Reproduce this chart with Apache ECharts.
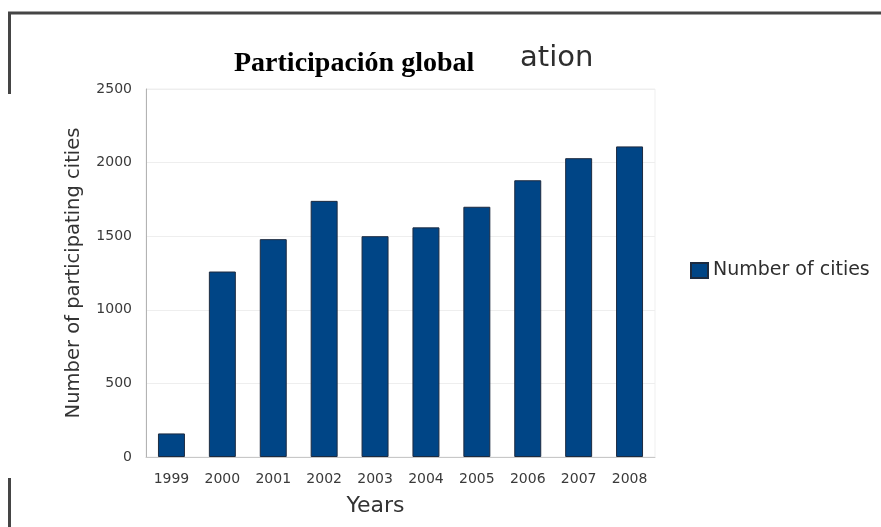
<!DOCTYPE html>
<html>
<head>
<meta charset="utf-8">
<script src="https://cdn.jsdelivr.net/npm/echarts@6/dist/echarts.min.js"></script>
<style>html,body{margin:0;padding:0;background:#fff;}#c{width:881px;height:527px;}</style>
</head>
<body>
<div id="c"></div>
<script>
const categories = ['1999','2000','2001','2002','2003','2004','2005','2006','2007','2008'];
const cities = [160, 1260, 1480, 1740, 1500, 1560, 1700, 1880, 2030, 2110];
const seriesName = 'Number of cities';
const titleText = 'Participación global';
const hiddenTitleTail = 'ation';
const yAxisName = 'Number of participating cities';
const xAxisName = 'Years';

const chart = echarts.init(document.getElementById('c'), null, {renderer: 'canvas'});
const sans = 'DejaVu Sans';
chart.setOption({
  backgroundColor: '#fff',
  animation: false,
  title: [
    {
      text: hiddenTitleTail,
      left: 515, top: 39,
      textStyle: {fontFamily: sans, fontSize: 29, fontWeight: 'normal', color: '#2e2e2e'}
    },
    {
      text: titleText,
      left: 234, top: 50,
      padding: 0,
      textStyle: {fontFamily: 'Liberation Serif', fontSize: 28, fontWeight: 'bold', color: '#000'}
    }
  ],
  legend: {
    left: 685, top: 256,
    orient: 'vertical',
    itemWidth: 17, itemHeight: 15, itemGap: 10,
    icon: 'rect',
    textStyle: {fontFamily: sans, fontSize: 19, color: '#2e2e2e'},
    data: [seriesName]
  },
  grid: {
    left: 146, right: 226, top: 89, bottom: 70,
    show: true, borderColor: '#efefef', borderWidth: 1
  },
  xAxis: {
    type: 'category',
    data: categories,
    name: xAxisName,
    nameLocation: 'middle',
    nameGap: 38,
    nameTextStyle: {fontFamily: sans, fontSize: 22, color: '#333', padding: [0, 50, 0, 0]},
    axisLine: {lineStyle: {color: '#c8c8c8', width: 1}},
    axisTick: {show: false},
    axisLabel: {fontFamily: sans, fontSize: 14, color: '#3a3a3a', margin: 15}
  },
  yAxis: {
    type: 'value',
    min: 0, max: 2500, interval: 500,
    name: yAxisName,
    nameLocation: 'middle',
    nameGap: 62,
    nameTextStyle: {fontFamily: sans, fontSize: 19.5, color: '#333'},
    axisLine: {show: true, lineStyle: {color: '#b3b3b3', width: 1}},
    axisTick: {show: false},
    axisLabel: {fontFamily: sans, fontSize: 14, color: '#3a3a3a', margin: 14, formatter: v => String(v)},
    splitLine: {lineStyle: {color: '#eeeeee', width: 1}}
  },
  series: [{
    name: seriesName,
    type: 'bar',
    data: cities,
    barWidth: '53%',
    itemStyle: {color: '#004586', borderColor: '#1d2b40', borderWidth: 1}
  }],
  graphic: [
    {type: 'line', shape: {x1: 8, y1: 13, x2: 881, y2: 13}, style: {stroke: '#454545', lineWidth: 3}, silent: true},
    {type: 'line', shape: {x1: 9.5, y1: 12, x2: 9.5, y2: 94}, style: {stroke: '#454545', lineWidth: 3}, silent: true},
    {type: 'line', shape: {x1: 9.5, y1: 478, x2: 9.5, y2: 527}, style: {stroke: '#454545', lineWidth: 3}, silent: true}
  ]
});
</script>
</body>
</html>
